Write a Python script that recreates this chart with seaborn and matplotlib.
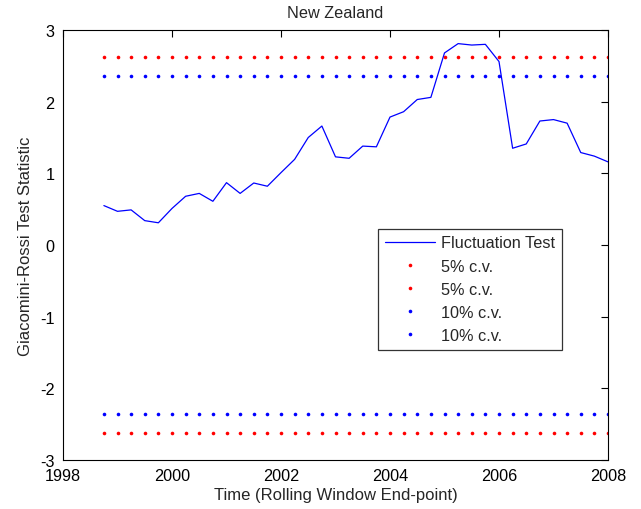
import numpy as np
import pandas as pd
import matplotlib
matplotlib.use("Agg")
import matplotlib.pyplot as plt
import seaborn as sns
from matplotlib.lines import Line2D

# Quarterly rolling-window end-points, 1998Q4 to 2008Q1
time = [1998.75 + 0.25 * i for i in range(38)]

fluctuation = [
    0.55, 0.47, 0.49, 0.34, 0.31, 0.51, 0.68, 0.72, 0.61, 0.87,
    0.72, 0.865, 0.82, 1.01, 1.195, 1.50, 1.66, 1.23, 1.21, 1.38,
    1.37, 1.785, 1.86, 2.03, 2.06, 2.68, 2.81, 2.79, 2.80, 2.56,
    1.35, 1.41, 1.73, 1.75, 1.70, 1.29, 1.24, 1.16,
]

cv5 = 2.63
cv10 = 2.36

xticks = [1998, 2000, 2002, 2004, 2006, 2008]
yticks = [-3, -2, -1, 0, 1, 2, 3]

df = pd.DataFrame({"time": time, "stat": fluctuation})

sns.set_theme(style="white")
plt.rcParams["font.family"] = ["Liberation Sans", "DejaVu Sans"]

FS = 11.7

fig = plt.figure(figsize=(6.41, 5.10), dpi=100)
ax = fig.add_axes([63 / 641, 1 - 461 / 510, (608 - 63) / 641, (461 - 31) / 510])

sns.lineplot(data=df, x="time", y="stat", ax=ax, color="#0000ff",
             linewidth=0.9, label="_nolegend_")

dot_kw = dict(linestyle="none", marker="o", markersize=2.6, markeredgewidth=0)
ax.plot(time, [cv5] * len(time), color="#ff0000", **dot_kw)
ax.plot(time, [-cv5] * len(time), color="#ff0000", **dot_kw)
ax.plot(time, [cv10] * len(time), color="#0000ff", **dot_kw)
ax.plot(time, [-cv10] * len(time), color="#0000ff", **dot_kw)

ax.set_xlim(1998, 2008)
ax.set_ylim(-3, 3)
ax.set_xticks(xticks)
ax.set_yticks(yticks)
ax.set_xticklabels([str(v) for v in xticks])
ax.set_yticklabels([str(v) for v in yticks])
ax.tick_params(direction="in", length=5, width=0.8, top=True, right=True,
               labelsize=FS, colors="black")
ax.tick_params(axis="x", pad=5.5)
ax.tick_params(axis="y", pad=6)
for s in ax.spines.values():
    s.set_color("black")
    s.set_linewidth(0.8)

ax.set_title("New Zealand", fontsize=FS, pad=9)
ax.set_xlabel("Time (Rolling Window End-point)", fontsize=12, labelpad=3)
ax.set_ylabel("Giacomini-Rossi Test Statistic", fontsize=12, labelpad=5)

handles = [
    Line2D([], [], color="#0000ff", linewidth=0.9),
    Line2D([], [], color="#ff0000", **dot_kw),
    Line2D([], [], color="#ff0000", **dot_kw),
    Line2D([], [], color="#0000ff", **dot_kw),
    Line2D([], [], color="#0000ff", **dot_kw),
]
labels = ["Fluctuation Test", "5% c.v.", "5% c.v.", "10% c.v.", "10% c.v."]
leg = ax.legend(handles, labels, loc="upper left",
                bbox_to_anchor=(378 / 641, 1 - 230 / 510),
                bbox_transform=fig.transFigure,
                fontsize=FS, frameon=True, fancybox=False, shadow=False,
                handlelength=3.1, handletextpad=0.4, borderpad=0.4,
                labelspacing=0.5, borderaxespad=0)
leg.get_frame().set_edgecolor("black")
leg.get_frame().set_linewidth(0.9)

fig.savefig("out.png", dpi=100, facecolor="white")
